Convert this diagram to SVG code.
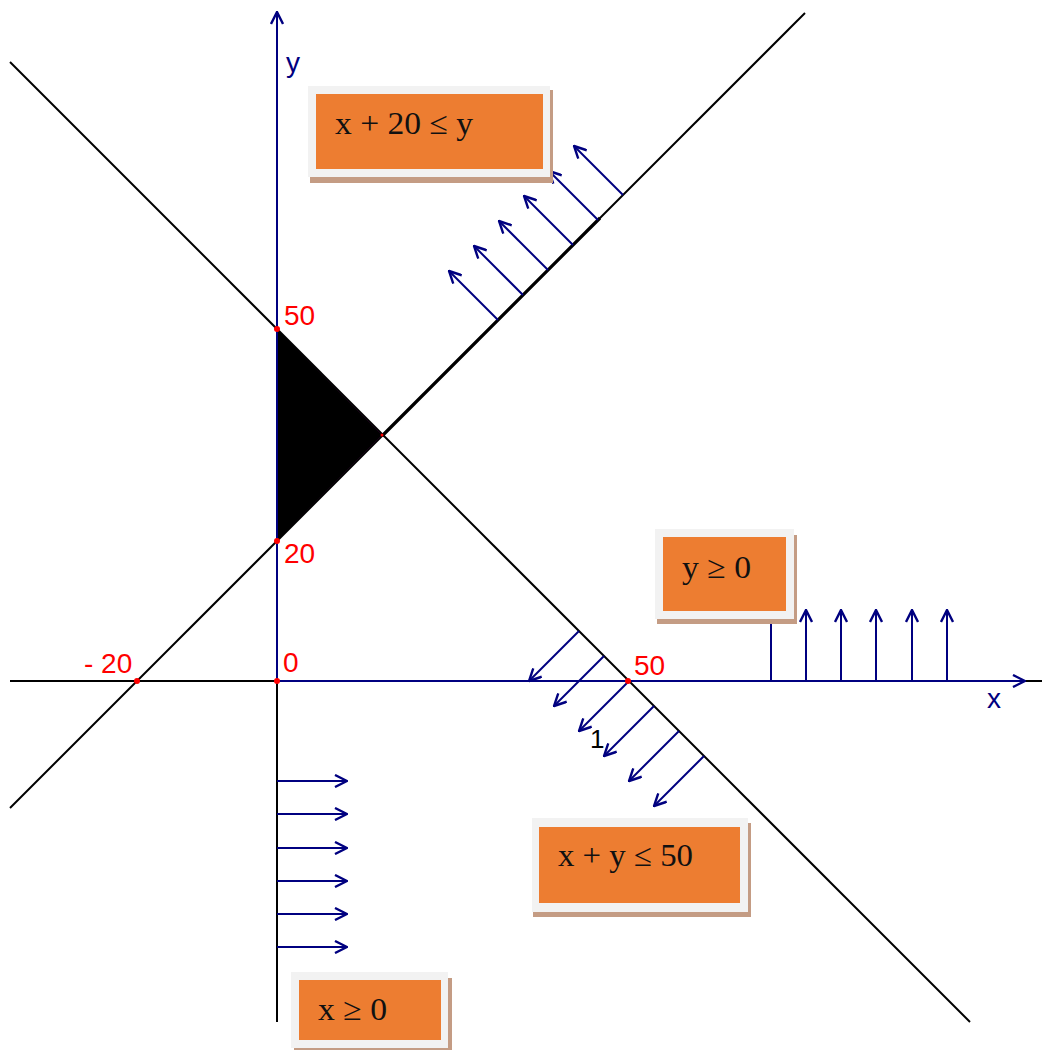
<svg xmlns="http://www.w3.org/2000/svg" width="1042" height="1050" viewBox="0 0 1042 1050">
<style>
.ax{stroke:#000;stroke-width:2;fill:none}
.nv{stroke:#000080;stroke-width:2;fill:none}
.arr{stroke:#000080;stroke-width:2;fill:none;marker-end:url(#ah)}
.lbl{font-family:"Liberation Sans",Arial,sans-serif;font-size:28px;fill:#ff0000}
.axl{font-family:"Liberation Sans",Arial,sans-serif;font-size:28px;fill:#000080}
.sh{fill:#c49c84}
.fr{fill:#f2f2f2}
.or{fill:#ed7d31}
.bt{font-family:"Liberation Serif","DejaVu Serif",serif;font-size:32px;fill:#111}
.dot{fill:#ff0000}
</style>
<defs>
<marker id="ah" markerUnits="userSpaceOnUse" viewBox="0 0 14 14" refX="13" refY="7" markerWidth="14" markerHeight="14" orient="auto">
<path d="M1,1 L13,7 L1,13" fill="none" stroke="#000080" stroke-width="2.4"/>
</marker>
</defs>
<rect width="1042" height="1050" fill="#fff"/>
<g id="region">
<polygon points="277,329 382,435 277,541" fill="#000" stroke="#8b008b" stroke-width="1"/>
</g>
<g id="connectors">
<line class="ax" x1="10" y1="681" x2="1042" y2="681"/>
<line class="ax" x1="277" y1="1022" x2="277" y2="681"/>
<line class="nv" x1="277" y1="681" x2="1025" y2="681" style="marker-end:url(#ah)"/>
<line class="nv" x1="277" y1="681" x2="277" y2="12" style="marker-end:url(#ah)"/>
<line class="ax" x1="10" y1="62" x2="970" y2="1022"/>
<line class="ax" x1="10" y1="808" x2="805" y2="13"/>
<line stroke="#000" stroke-width="3.2" x1="382" y1="436" x2="600" y2="218"/>
<line class="arr" x1="498" y1="320" x2="449" y2="271"/>
<line class="arr" x1="523" y1="295" x2="474" y2="246"/>
<line class="arr" x1="548" y1="270" x2="499" y2="221"/>
<line class="arr" x1="573" y1="245" x2="524" y2="196"/>
<line class="arr" x1="598" y1="220" x2="549" y2="171"/>
<line class="arr" x1="623" y1="195" x2="574" y2="146"/>
<line class="arr" x1="579" y1="631" x2="529" y2="681"/>
<line class="arr" x1="604" y1="656" x2="554" y2="706"/>
<line class="arr" x1="629" y1="681" x2="579" y2="731"/>
<line class="arr" x1="654" y1="706" x2="604" y2="756"/>
<line class="arr" x1="679" y1="731" x2="629" y2="781"/>
<line class="arr" x1="704" y1="756" x2="654" y2="806"/>
<line class="arr" x1="771" y1="681" x2="771" y2="610"/>
<line class="arr" x1="806" y1="681" x2="806" y2="610"/>
<line class="arr" x1="841" y1="681" x2="841" y2="610"/>
<line class="arr" x1="876" y1="681" x2="876" y2="610"/>
<line class="arr" x1="912" y1="681" x2="912" y2="610"/>
<line class="arr" x1="947" y1="681" x2="947" y2="610"/>
<line class="arr" x1="277" y1="781" x2="347" y2="781"/>
<line class="arr" x1="277" y1="814" x2="347" y2="814"/>
<line class="arr" x1="277" y1="848" x2="347" y2="848"/>
<line class="arr" x1="277" y1="881" x2="347" y2="881"/>
<line class="arr" x1="277" y1="914" x2="347" y2="914"/>
<line class="arr" x1="277" y1="947" x2="347" y2="947"/>
</g>
<g id="points">
<circle class="dot" cx="277" cy="329" r="3"/>
<circle class="dot" cx="277" cy="541" r="3"/>
<circle class="dot" cx="137" cy="681" r="3"/>
<circle class="dot" cx="277" cy="681" r="3"/>
<circle class="dot" cx="628" cy="681" r="3"/>
<circle class="dot" cx="382" cy="435" r="1.5"/>
</g>
<g id="labels">
<text class="lbl" x="284" y="325">50</text>
<text class="lbl" x="284" y="563">20</text>
<text class="lbl" x="84" y="673">- 20</text>
<text class="lbl" x="283" y="672">0</text>
<text class="lbl" x="634" y="675">50</text>
<text class="axl" x="286" y="72">y</text>
<text class="axl" x="987" y="708">x</text>
<text x="590" y="748" font-family="Liberation Sans,Arial,sans-serif" font-size="26" fill="#000">1</text>
</g>
<g id="box-x20y">
<rect class="sh" x="310" y="90" width="243" height="93"/>
<rect class="fr" x="308" y="86" width="242" height="91"/>
<rect class="or" x="316" y="94" width="227" height="75"/>
<text class="bt" x="335" y="134" textLength="138" lengthAdjust="spacingAndGlyphs">x + 20 ≤ y</text>
</g>
<g id="box-y0">
<rect class="sh" x="657" y="535" width="140" height="89"/>
<rect class="fr" x="655" y="529" width="139" height="90"/>
<rect class="or" x="663" y="537" width="123" height="74"/>
<text class="bt" x="682" y="578" textLength="69" lengthAdjust="spacingAndGlyphs">y ≥ 0</text>
</g>
<g id="box-xy50">
<rect class="sh" x="533" y="823" width="218" height="94"/>
<rect class="fr" x="532" y="818" width="216" height="94"/>
<rect class="or" x="539" y="827" width="201" height="76"/>
<text class="bt" x="558" y="866" textLength="135" lengthAdjust="spacingAndGlyphs">x + y ≤ 50</text>
</g>
<g id="box-x0">
<rect class="sh" x="294" y="978" width="158" height="76"/>
<rect class="fr" x="291" y="972" width="157" height="76"/>
<rect class="or" x="299" y="980" width="142" height="60"/>
<text class="bt" x="318" y="1020" textLength="69" lengthAdjust="spacingAndGlyphs">x ≥ 0</text>
</g>
</svg>
